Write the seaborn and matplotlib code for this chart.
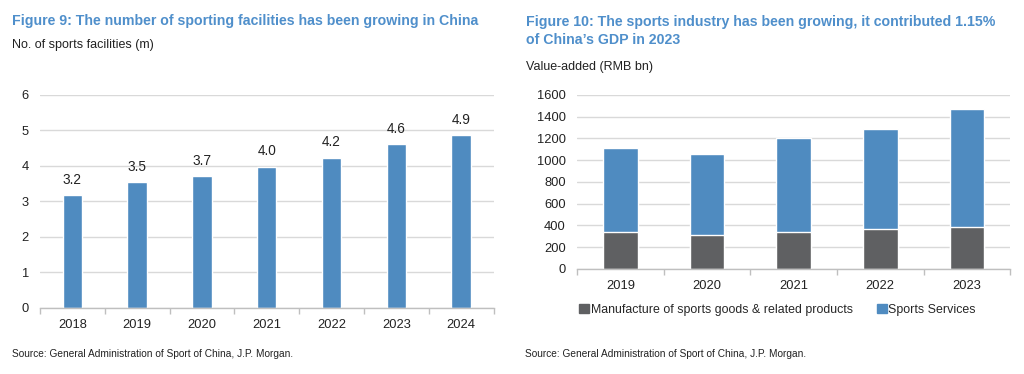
import matplotlib
matplotlib.use("Agg")
import matplotlib.pyplot as plt
import seaborn as sns
import pandas as pd
import numpy as np
from matplotlib.patches import Patch
from matplotlib.ticker import FixedLocator

# ---- data ----
fac_years = ["2018", "2019", "2020", "2021", "2022", "2023", "2024"]
fac_values = [3.17, 3.54, 3.72, 3.98, 4.23, 4.61, 4.86]

ind_years = ["2019", "2020", "2021", "2022", "2023"]
manufacture = [340, 315, 340, 370, 385]
services = [770, 742, 867, 914, 1083]

title_left = "Figure 9: The number of sporting facilities has been growing in China"
sub_left = "No. of sports facilities (m)"
title_right = "Figure 10: The sports industry has been growing, it contributed 1.15%\nof China\u2019s GDP in 2023"
sub_right = "Value-added (RMB bn)"
source = "Source: General Administration of Sport of China, J.P. Morgan."
legend_labels = ["Manufacture of sports goods & related products", "Sports Services"]

BLUE = "#4F8BC0"
DARK = "#5F6062"
TITLE_C = "#4F8FCB"
GRID = "#D9D9D9"

sns.set_theme(style="white")
plt.rcParams["font.family"] = ["Liberation Sans", "DejaVu Sans"]

fig = plt.figure(figsize=(10.24, 3.74), dpi=100)

def style_axes(ax, n):
    ax.set_xlabel("")
    ax.set_ylabel("")
    ax.grid(axis="y", color=GRID, linewidth=1.0)
    ax.set_axisbelow(True)
    for s in ["top", "right", "left"]:
        ax.spines[s].set_visible(False)
    ax.spines["bottom"].set_color("#BFBFBF")
    ax.spines["bottom"].set_linewidth(1.0)
    ax.set_xlim(-0.5, n - 0.5)
    ax.xaxis.set_minor_locator(FixedLocator(np.arange(-0.5, n, 1.0)))
    ax.tick_params(axis="x", which="minor", length=4, color="#BFBFBF", width=1, direction="out", bottom=True)
    ax.tick_params(axis="x", which="major", length=0, labelsize=9.3, pad=8, colors="#222222")
    ax.tick_params(axis="y", length=0, labelsize=9.3, colors="#222222", pad=8)

# ---- left chart ----
axL = fig.add_axes([0.039, 0.177, 0.443, 0.569])
dfL = pd.DataFrame({"year": fac_years, "value": fac_values})
sns.barplot(data=dfL, x="year", y="value", color=BLUE, saturation=1, width=0.3, ax=axL)
axL.set_ylim(0, 6)
axL.set_yticks(range(0, 7))
style_axes(axL, len(fac_years))
axL.bar_label(axL.containers[0], fmt="%.1f", padding=6, fontsize=9.8, color="#222222")

# ---- right chart ----
axR = fig.add_axes([0.5635, 0.281, 0.423, 0.465])
totals = [m + s for m, s in zip(manufacture, services)]
dfR = pd.DataFrame({"year": ind_years, "total": totals, "manufacture": manufacture})
sns.barplot(data=dfR, x="year", y="total", color=BLUE, saturation=1, width=0.4, ax=axR)
sns.barplot(data=dfR, x="year", y="manufacture", color=DARK, saturation=1, width=0.4, ax=axR)
axR.set_ylim(0, 1600)
axR.set_yticks(range(0, 1601, 200))
style_axes(axR, len(ind_years))
handles = [Patch(color=DARK), Patch(color=BLUE)]
fig.legend(handles, legend_labels, loc="center left", bbox_to_anchor=(0.561, 0.171),
           ncol=2, frameon=False, fontsize=8.9, handlelength=0.8, handleheight=0.8,
           handletextpad=0.15, columnspacing=1.9, borderaxespad=0)

# ---- texts ----
fig.text(12 / 1024, 1 - 21 / 374, title_left, fontsize=10.2, fontweight="bold", color=TITLE_C, va="center", ha="left")
fig.text(12 / 1024, 1 - 45 / 374, sub_left, fontsize=9.0, color="#222222", va="center", ha="left")
fig.text(526 / 1024, 1 - 31 / 374, title_right, fontsize=10.2, fontweight="bold", color=TITLE_C, va="center", ha="left", linespacing=1.4)
fig.text(526 / 1024, 1 - 67 / 374, sub_right, fontsize=9.0, color="#222222", va="center", ha="left")
fig.text(12 / 1024, 1 - 354 / 374, source, fontsize=7.3, color="#222222", va="center", ha="left")
fig.text(525 / 1024, 1 - 354 / 374, source, fontsize=7.3, color="#222222", va="center", ha="left")

fig.savefig("out.png", dpi=100, facecolor="white")
